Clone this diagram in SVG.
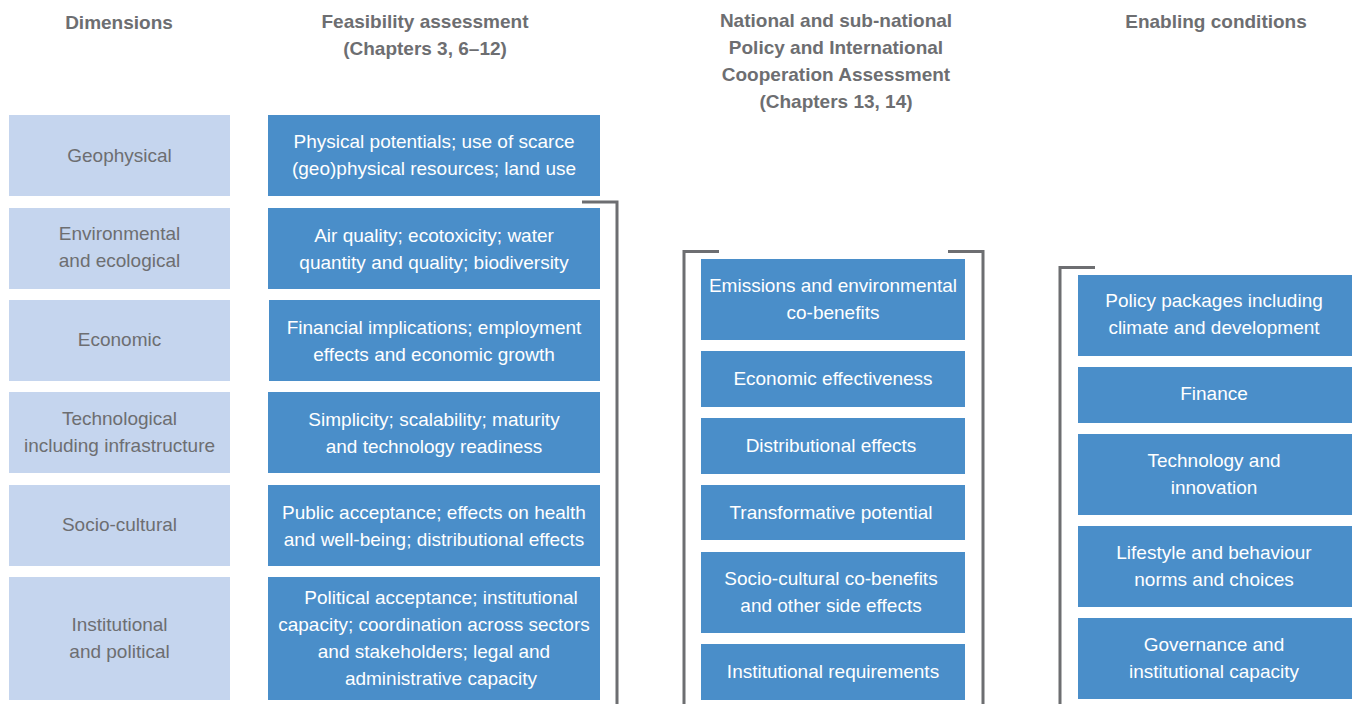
<svg xmlns="http://www.w3.org/2000/svg" width="1352" height="704" viewBox="0 0 1352 704">
<style>
  text { font-family: "Liberation Sans", Arial, sans-serif; font-size: 19px; text-anchor: middle; }
  .hd { font-weight: bold; fill: #6d6e71; }
  .lt { fill: #c5d5ee; }
  .dk { fill: #4a8ec9; }
  .lt-t { fill: #6d6e71; }
  .dk-t { fill: #ffffff; }
  .br { fill: none; stroke: #6d6e71; stroke-width: 3; }
</style>
<rect width="1352" height="704" fill="#ffffff"/>

<g id="headers">
  <text class="hd" x="119" y="29">Dimensions</text>
  <text class="hd" x="425" y="28">Feasibility assessment</text>
  <text class="hd" x="425" y="55">(Chapters 3, 6–12)</text>
  <text class="hd" x="836" y="27">National and sub-national</text>
  <text class="hd" x="836" y="54">Policy and International</text>
  <text class="hd" x="836" y="81">Cooperation Assessment</text>
  <text class="hd" x="836" y="108">(Chapters 13, 14)</text>
  <text class="hd" x="1216" y="28">Enabling conditions</text>
</g>

<g id="connectors">
  <path class="br" d="M582 202 H617 V704"/>
  <path class="br" d="M719 251.5 H684 V704"/>
  <path class="br" d="M948 251.5 H983 V704"/>
  <path class="br" d="M1095 267.5 H1060 V704"/>
</g>

<!-- Dimensions column -->
<g id="dim-geophysical">
  <rect class="lt" x="9" y="115" width="221" height="81"/>
  <text class="lt-t" x="119.5" y="162">Geophysical</text>
</g>
<g id="dim-environmental">
  <rect class="lt" x="9" y="208" width="221" height="81"/>
  <text class="lt-t" x="119.5" y="240">Environmental</text>
  <text class="lt-t" x="119.5" y="267">and ecological</text>
</g>
<g id="dim-economic">
  <rect class="lt" x="9" y="300" width="221" height="81"/>
  <text class="lt-t" x="119.5" y="346">Economic</text>
</g>
<g id="dim-technological">
  <rect class="lt" x="9" y="392" width="221" height="81"/>
  <text class="lt-t" x="119.5" y="425">Technological</text>
  <text class="lt-t" x="119.5" y="452">including infrastructure</text>
</g>
<g id="dim-sociocultural">
  <rect class="lt" x="9" y="485" width="221" height="81"/>
  <text class="lt-t" x="119.5" y="531">Socio-cultural</text>
</g>
<g id="dim-institutional">
  <rect class="lt" x="9" y="577" width="221" height="123"/>
  <text class="lt-t" x="119.5" y="631">Institutional</text>
  <text class="lt-t" x="119.5" y="658">and political</text>
</g>

<!-- Feasibility column -->
<g id="feas-geophysical">
  <rect class="dk" x="268" y="115" width="332" height="81"/>
  <text class="dk-t" x="434" y="148">Physical potentials; use of scarce</text>
  <text class="dk-t" x="434" y="175">(geo)physical resources; land use</text>
</g>
<g id="feas-environmental">
  <rect class="dk" x="268" y="208" width="332" height="81"/>
  <text class="dk-t" x="434" y="242">Air quality; ecotoxicity; water</text>
  <text class="dk-t" x="434" y="269">quantity and quality; biodiversity</text>
</g>
<g id="feas-economic">
  <rect class="dk" x="269" y="300" width="331" height="81"/>
  <text class="dk-t" x="434" y="334">Financial implications; employment</text>
  <text class="dk-t" x="434" y="361">effects and economic growth</text>
</g>
<g id="feas-technological">
  <rect class="dk" x="268" y="392" width="332" height="81"/>
  <text class="dk-t" x="434" y="426">Simplicity; scalability; maturity</text>
  <text class="dk-t" x="434" y="453">and technology readiness</text>
</g>
<g id="feas-sociocultural">
  <rect class="dk" x="268" y="485" width="332" height="81"/>
  <text class="dk-t" x="434" y="519">Public acceptance; effects on health</text>
  <text class="dk-t" x="434" y="546">and well-being; distributional effects</text>
</g>
<g id="feas-institutional">
  <rect class="dk" x="268" y="577" width="332" height="123"/>
  <text class="dk-t" x="441" y="604">Political acceptance; institutional</text>
  <text class="dk-t" x="434" y="631">capacity; coordination across sectors</text>
  <text class="dk-t" x="434" y="658">and stakeholders; legal and</text>
  <text class="dk-t" x="441" y="685">administrative capacity</text>
</g>

<!-- Policy assessment column -->
<g id="pol-emissions">
  <rect class="dk" x="701" y="259" width="264" height="81"/>
  <text class="dk-t" x="833" y="292">Emissions and environmental</text>
  <text class="dk-t" x="833" y="319">co-benefits</text>
</g>
<g id="pol-economic">
  <rect class="dk" x="701" y="351" width="264" height="56"/>
  <text class="dk-t" x="833" y="385">Economic effectiveness</text>
</g>
<g id="pol-distributional">
  <rect class="dk" x="701" y="418" width="264" height="56"/>
  <text class="dk-t" x="831" y="452">Distributional effects</text>
</g>
<g id="pol-transformative">
  <rect class="dk" x="701" y="485" width="264" height="55"/>
  <text class="dk-t" x="831" y="519">Transformative potential</text>
</g>
<g id="pol-sociocultural">
  <rect class="dk" x="701" y="552" width="264" height="81"/>
  <text class="dk-t" x="831" y="585">Socio-cultural co-benefits</text>
  <text class="dk-t" x="831" y="612">and other side effects</text>
</g>
<g id="pol-institutional">
  <rect class="dk" x="701" y="644" width="264" height="56"/>
  <text class="dk-t" x="833" y="678">Institutional requirements</text>
</g>

<!-- Enabling conditions column -->
<g id="en-policy">
  <rect class="dk" x="1078" y="275" width="274" height="81"/>
  <text class="dk-t" x="1214" y="307">Policy packages including</text>
  <text class="dk-t" x="1214" y="334">climate and development</text>
</g>
<g id="en-finance">
  <rect class="dk" x="1078" y="367" width="274" height="56"/>
  <text class="dk-t" x="1214" y="400">Finance</text>
</g>
<g id="en-technology">
  <rect class="dk" x="1078" y="434" width="274" height="81"/>
  <text class="dk-t" x="1214" y="467">Technology and</text>
  <text class="dk-t" x="1214" y="494">innovation</text>
</g>
<g id="en-lifestyle">
  <rect class="dk" x="1078" y="526" width="274" height="81"/>
  <text class="dk-t" x="1214" y="559">Lifestyle and behaviour</text>
  <text class="dk-t" x="1214" y="586">norms and choices</text>
</g>
<g id="en-governance">
  <rect class="dk" x="1078" y="618" width="274" height="81"/>
  <text class="dk-t" x="1214" y="651">Governance and</text>
  <text class="dk-t" x="1214" y="678">institutional capacity</text>
</g>
</svg>
